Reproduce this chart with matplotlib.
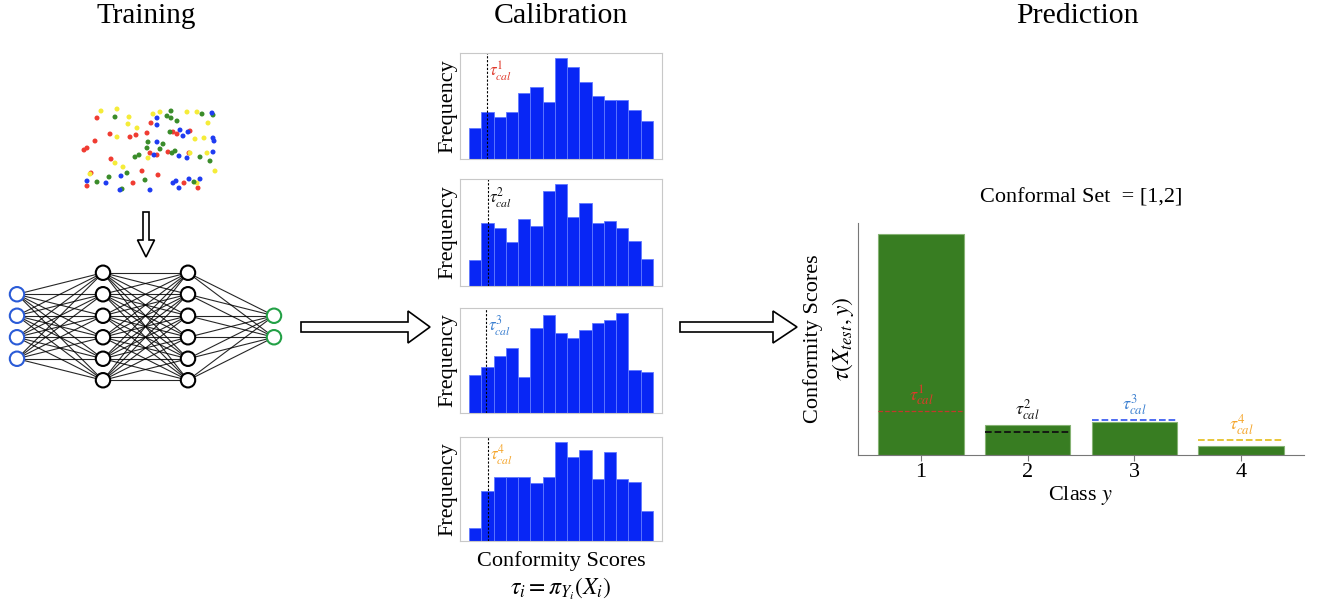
import numpy as np
import matplotlib
matplotlib.use('Agg')
import matplotlib.pyplot as plt
from matplotlib.patches import FancyArrow, Circle
from matplotlib.transforms import blended_transform_factory

plt.rcParams['font.family'] = ['Liberation Serif', 'DejaVu Serif']
plt.rcParams['mathtext.fontset'] = 'stix'

W, H = 1322, 604

# toy training set, in figure pixels
red_x = [97, 151, 110, 130, 136, 147, 95, 87, 84, 173, 177, 190, 150, 157, 168, 189, 111, 142, 158, 91, 87, 133, 184, 198]
red_y = [118, 123, 134, 137, 135, 133, 141, 148, 150, 132, 134, 131, 153, 155, 152, 153, 159, 171, 175, 173, 186, 183, 183, 188]
yellow_x = [101, 117, 129, 128, 137, 153, 160, 187, 197, 208, 195, 204, 117, 148, 190, 207, 115, 123, 90, 197, 215]
yellow_y = [111, 109, 117, 124, 128, 114, 112, 112, 112, 123, 139, 138, 137, 158, 153, 153, 163, 167, 174, 183, 171]
green_x = [115, 167, 171, 171, 177, 202, 213, 170, 148, 163, 147, 160, 175, 172, 139, 135, 200, 210, 127, 109, 97, 145, 194, 122]
green_y = [117, 116, 118, 111, 121, 114, 115, 132, 142, 144, 148, 149, 151, 153, 155, 157, 157, 161, 173, 177, 182, 180, 182, 189]
blue_x = [212, 157, 157, 180, 188, 183, 213, 214, 157, 154, 179, 187, 213, 121, 87, 106, 173, 176, 189, 200, 179, 150, 120]
blue_y = [113, 118, 125, 130, 132, 136, 138, 141, 142, 155, 156, 158, 152, 176, 181, 183, 183, 181, 179, 179, 188, 190, 190]

# network: layer sizes
layer_sizes = [4, 6, 6, 2]

# calibration score histograms (15 bins each)
hist_counts = [
    [31, 47, 42, 47, 65, 71, 56, 100, 91, 76, 62, 58, 58, 49, 38],
    [26, 62, 57, 44, 66, 59, 94, 101, 68, 82, 62, 64, 57, 45, 27],
    [38, 46, 56, 64, 36, 84, 97, 79, 74, 82, 89, 92, 99, 43, 41],
    [13, 50, 64, 64, 64, 58, 64, 99, 84, 91, 62, 89, 62, 59, 30],
]
hist_tau = [1.48, 1.5, 1.37, 1.56]
tau_colors = ['#e0392b', '#111111', '#3a7fd0', '#f5a52a']

# test-point scores per class
classes = [1, 2, 3, 4]
test_scores = [0.90, 0.122, 0.134, 0.035]
class_tau = [0.178, 0.094, 0.143, 0.06]
line_colors = ['#c0392b', '#111111', '#3f5ff0', '#e6c229']


def box(x0, y0, x1, y1):
    return [x0 / W, 1 - y1 / H, (x1 - x0) / W, (y1 - y0) / H]


fig = plt.figure(figsize=(W / 100, H / 100), dpi=100)

# overlay in pixel units for the diagram parts
ax0 = fig.add_axes([0, 0, 1, 1])
ax0.set_xlim(0, W)
ax0.set_ylim(H, 0)
ax0.axis('off')

ax0.text(146, 16, 'Training', fontsize=21, ha='center', va='center')
ax0.text(561, 16, 'Calibration', fontsize=21.5, ha='center', va='center')
ax0.text(1077, 16, 'Prediction', fontsize=21.5, ha='center', va='center')

for xs, ys, c in [(red_x, red_y, '#f03c32'), (yellow_x, yellow_y, '#f5ec38'),
                  (green_x, green_y, '#3a8c2a'), (blue_x, blue_y, '#1f3cf2')]:
    ax0.scatter(xs, ys, s=13, color=c, edgecolors='none', zorder=3)

# neural net
layer_x = [17, 103, 188, 274]
spacing = 21.5
centre_y = 326.5
nodes = []
for lx, n in zip(layer_x, layer_sizes):
    ys = centre_y + (np.arange(n) - (n - 1) / 2) * spacing
    nodes.append([(lx, y) for y in ys])
for a, b in zip(nodes[:-1], nodes[1:]):
    for (x1, y1) in a:
        for (x2, y2) in b:
            ax0.plot([x1, x2], [y1, y2], color='black', lw=0.8, alpha=0.85, zorder=1)
for i, layer in enumerate(nodes):
    ec = '#2a5bd7' if i == 0 else ('#22a045' if i == len(nodes) - 1 else 'black')
    for (x, y) in layer:
        ax0.add_patch(Circle((x, y), 7.2, facecolor='white', edgecolor=ec, lw=1.5, zorder=2))

# hollow arrows
arrow_kw = dict(length_includes_head=True, facecolor='white', edgecolor='black', lw=1.2)
ax0.add_patch(FancyArrow(146, 212, 0, 45, width=6, head_width=17, head_length=17, **arrow_kw))
ax0.add_patch(FancyArrow(301, 327, 129, 0, width=10, head_width=32, head_length=22, **arrow_kw))
ax0.add_patch(FancyArrow(680, 327, 117, 0, width=10, head_width=32, head_length=24, **arrow_kw))

ax0.text(561, 561, 'Conformity Scores', fontsize=16, ha='center', va='center')
ax0.text(561, 589, r'$\tau_i = \pi_{Y_i}(X_i)$', fontsize=17, ha='center', va='center')

ax0.text(1081, 198, 'Conformal Set  = [1,2]', fontsize=16, ha='center', va='center')
ax0.text(813, 339, 'Conformity Scores', fontsize=16, ha='center', va='center', rotation=90)
ax0.text(843, 339, r'$\tau(X_{test}, y)$', fontsize=17, ha='center', va='center', rotation=90)

# calibration histograms
hist_boxes = [(460, 53, 662, 159), (460, 179, 662, 286), (460, 308, 662, 413), (460, 437, 662, 541)]
for k, (counts, tau, bx) in enumerate(zip(hist_counts, hist_tau, hist_boxes)):
    ax = fig.add_axes(box(*bx))
    ax.bar(np.arange(len(counts)), counts, width=1, align='edge',
           color='#0826f5', edgecolor='#6078ff', lw=0.6)
    ax.axvline(tau, color='black', ls='--', lw=0.8, dashes=(2, 1.5))
    tr = blended_transform_factory(ax.transData, ax.transAxes)
    ax.text(tau + 0.15, 0.83, r'$\tau_{cal}^{%d}$' % (k + 1), transform=tr,
            color=tau_colors[k], fontsize=12, ha='left', va='center')
    ax.set_xticks([])
    ax.set_yticks([])
    for s in ax.spines.values():
        s.set_color('#c8c8c8')
    ax.set_ylabel('Frequency', fontsize=16, labelpad=2)

# prediction bars
axb = fig.add_axes(box(858, 223, 1304, 455))
axb.bar(classes, test_scores, width=0.8, color='#387d22', edgecolor='#86b374', lw=0.8)
for c, s, t, lc, tc in zip(classes, test_scores, class_tau, line_colors, tau_colors):
    axb.hlines(t, c - 0.4, c + 0.4, colors=lc, linestyles='--', lw=1.3 if c > 1 else 0.9)
    base = t if s > 2 * t else max(s, t)
    axb.annotate(r'$\tau_{cal}^{%d}$' % c, (c, base), xytext=(0, 11), textcoords='offset points',
                 color=tc, fontsize=13, ha='center', va='center')
axb.set_xticks(classes)
axb.set_yticks([])
axb.tick_params(axis='x', length=4, color='#777777', labelsize=16, pad=2)
axb.spines['top'].set_visible(False)
axb.spines['right'].set_visible(False)
axb.spines['left'].set_color('#777777')
axb.spines['bottom'].set_color('#777777')
axb.set_xlabel('Class $y$', fontsize=16, labelpad=1)

fig.savefig('out.png', dpi=100)
